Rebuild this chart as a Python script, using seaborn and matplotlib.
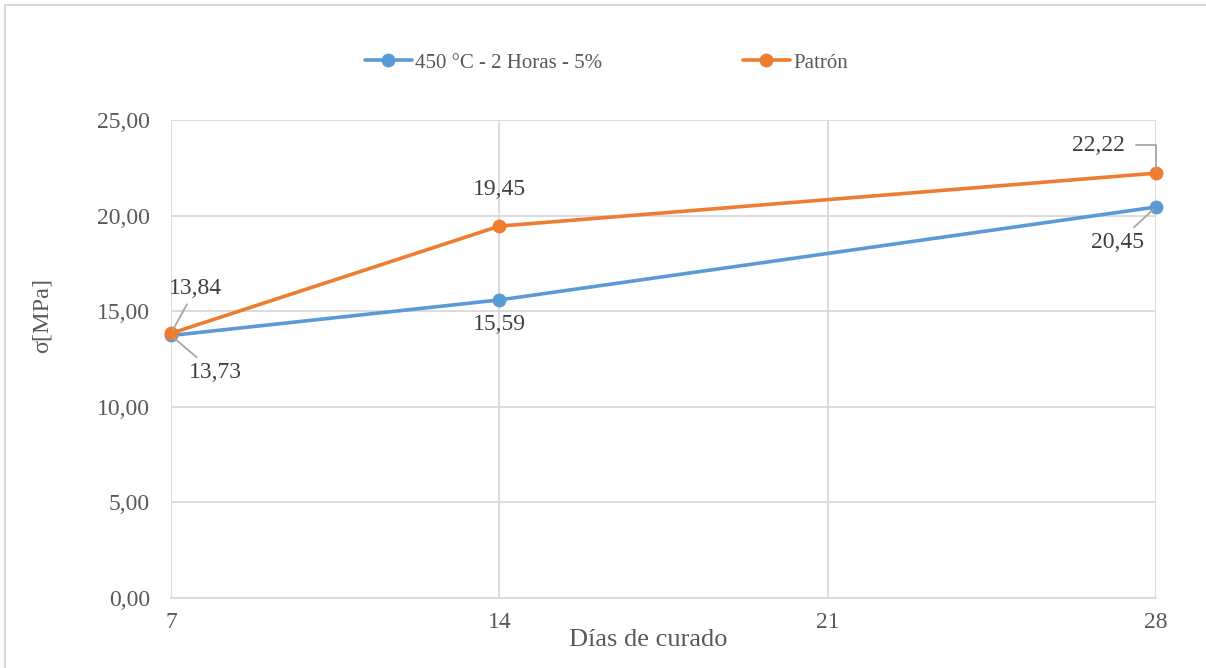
import matplotlib
matplotlib.use("Agg")
import matplotlib.pyplot as plt
from matplotlib.lines import Line2D
import seaborn as sns
import pandas as pd

# Compressive strength by curing age
dias = [7, 14, 28]
serie_450 = [13.73, 15.59, 20.45]
serie_patron = [13.84, 19.45, 22.22]
nombres = ["450 °C - 2 Horas - 5%", "Patrón"]
colores = ["#5B9BD5", "#ED7D31"]
y_ticks = [0, 5, 10, 15, 20, 25]
x_ticks = [7, 14, 21, 28]

df = pd.concat([
    pd.DataFrame({"dias": dias, "sigma": serie_450, "serie": nombres[0]}),
    pd.DataFrame({"dias": dias, "sigma": serie_patron, "serie": nombres[1]}),
])

sns.set_theme(style="white")
plt.rcParams["font.family"] = ["Liberation Serif", "DejaVu Serif"]
txt = "#595959"
lbl = "#404040"
grid_c = "#d9d9d9"

fig = plt.figure(figsize=(12.06, 6.68), dpi=100)
ax = fig.add_axes([171 / 1206, 1 - 598 / 668, 985 / 1206, 478 / 668])

sns.lineplot(data=df, x="dias", y="sigma", hue="serie", palette=colores,
             marker="o", markersize=10, markeredgewidth=0, linewidth=2.6,
             ax=ax, legend=False, zorder=3, clip_on=False)

ax.set_xlim(7, 28)
ax.set_ylim(0, 25)
ax.set_xticks(x_ticks)
ax.set_yticks(y_ticks)
ax.set_yticklabels([f"{v:.2f}".replace(".", ",") for v in y_ticks])
ax.tick_params(axis="both", length=0, labelsize=17, labelcolor=txt)
ax.tick_params(axis="y", pad=15)
ax.tick_params(axis="x", pad=10)
ax.grid(True, color=grid_c, linewidth=1.3)
ax.set_axisbelow(True)
for side in ["top", "right", "left"]:
    ax.spines[side].set_visible(False)
ax.spines["bottom"].set_color(grid_c)
ax.spines["bottom"].set_linewidth(1.3)

ax.set_xlabel("Días de curado", fontsize=19, color=txt, va="center")
ax.set_ylabel("σ[MPa]", fontsize=17.5, color=txt, va="center")
ax.xaxis.set_label_coords(0.485, -0.087)
ax.yaxis.set_label_coords(-0.131, 0.59)

# Data labels
lead = dict(arrowstyle="-", color="#a6a6a6", lw=1.3, shrinkA=2, shrinkB=3)
fmt = lambda v: f"{v:.2f}".replace(".", ",")
kw = dict(ha="center", va="center", fontsize=17, color=lbl)
ax.annotate(fmt(serie_patron[0]), xy=(dias[0], serie_patron[0]), xytext=(7.53, 16.21),
            arrowprops=lead, **kw)
ax.annotate(fmt(serie_450[0]), xy=(dias[0], serie_450[0]), xytext=(7.94, 11.77),
            arrowprops=lead, **kw)
ax.annotate(fmt(serie_patron[1]), xy=(dias[1], serie_patron[1]), xytext=(14.0, 21.34), **kw)
ax.annotate(fmt(serie_450[1]), xy=(dias[1], serie_450[1]), xytext=(14.0, 14.28), **kw)
ax.annotate(fmt(serie_patron[2]), xy=(dias[2], serie_patron[2]), xytext=(26.77, 23.69),
            arrowprops=dict(lead, connectionstyle="angle,angleA=0,angleB=90,rad=0", shrinkA=6),
            **kw)
ax.annotate(fmt(serie_450[2]), xy=(dias[2], serie_450[2]), xytext=(27.17, 18.57),
            arrowprops=lead, **kw)

# Legend entries, one per series, laid out across the top
legend_x = [365 / 1206, 743 / 1206]
for nombre, color, x0 in zip(nombres, colores, legend_x):
    h = Line2D([], [], color=color, marker="o", markersize=10, markeredgewidth=0, linewidth=2.6)
    fig.legend([h], [nombre], loc="center left", bbox_to_anchor=(x0, 1 - 63 / 668),
               frameon=False, fontsize=15, labelcolor=txt, handlelength=2.25,
               handletextpad=0.15, borderpad=0, borderaxespad=0)

# Chart frame (top and left edges)
frame = dict(color="#d9d9d9", linewidth=1.5, transform=fig.transFigure)
fig.add_artist(Line2D([5 / 1206, 1], [1 - 5 / 668, 1 - 5 / 668], **frame))
fig.add_artist(Line2D([5 / 1206, 5 / 1206], [0, 1 - 5 / 668], **frame))

fig.savefig("out.png", dpi=100)
